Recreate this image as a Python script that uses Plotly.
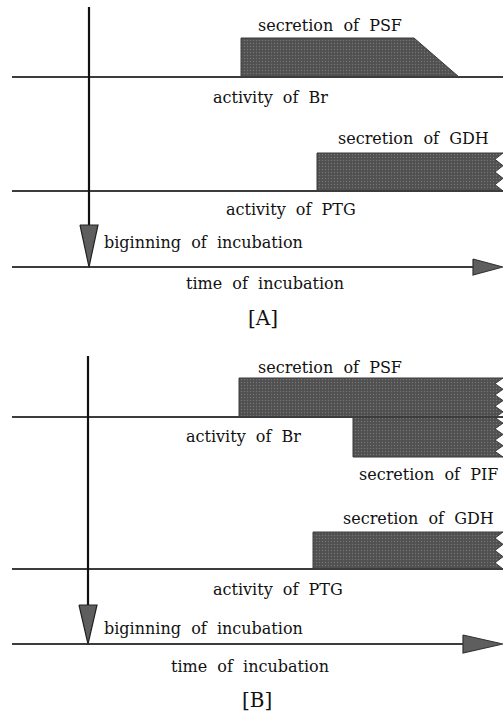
import numpy as np
import plotly.graph_objects as go

W, H = 503, 714

# ---- diagram data (two panels: A and B), in time/level units of the page ----
panel_labels = ["[A]", "[B]"]
incubation_start = [89, 88]          # time at which incubation begins
vline_top = [7, 356]
br_level = [77, 417]                 # baseline of "activity of Br"
ptg_level = [191, 569]               # baseline of "activity of PTG"
time_level = [267, 644]              # time axis
psf_top = [38, 378]
psf_start = [241, 239]
psf_plateau_end = [414, None]
psf_end = [459, 503]
pif_start = [None, 353]
pif_bottom = [None, 457]
gdh_top = [153, 532]
gdh_start = [317, 313]
time_arrow_start = [473, 463]
time_arrow_half = [8, 9]
down_arrow_top = [225, 605]

NB = "\u00a0"
def sp(s):
    return s.replace(" ", NB * 2)

texts_A = [("secretion of PSF", 330, 25, "center"),
           ("activity of Br", 270, 97, "center"),
           ("secretion of GDH", 413, 138, "center"),
           ("activity of PTG", 291, 209, "center"),
           ("biginning of incubation", 102, 242, "left"),
           ("time of incubation", 265, 283, "center")]
texts_B = [("secretion of PSF", 330, 367, "center"),
           ("activity of Br", 243, 436, "center"),
           ("secretion of PIF", 428, 474, "center"),
           ("secretion of GDH", 418, 518, "center"),
           ("activity of PTG", 278, 589, "center"),
           ("biginning of incubation", 102, 628, "left"),
           ("time of incubation", 250, 666, "center")]
label_pos = [(263, 318), (257, 700)]

FILL = "#575757"
LINE = "#2a2a2a"
pattern = dict(shape=".", bgcolor="#505050", fgcolor="#9a9a9a", size=3, solidity=0.18)

fig = go.Figure()

def zigzag(x_right, y_top, y_bot, depth=8, step=11):
    n = max(2, int(round((y_bot - y_top) / step)))
    ys = np.linspace(y_top, y_bot, 2 * n + 1)
    xs = [x_right if k % 2 == 0 else x_right - depth for k in range(len(ys))]
    return list(xs), list(ys)

def poly(xs, ys):
    fig.add_trace(go.Scatter(x=xs, y=ys, mode="lines", fill="toself",
                             fillcolor=FILL, fillpattern=pattern,
                             line=dict(color="#3a3a3a", width=1),
                             hoverinfo="skip", showlegend=False))

def line(xs, ys, color=LINE, width=2):
    fig.add_trace(go.Scatter(x=xs, y=ys, mode="lines",
                             line=dict(color=color, width=width),
                             hoverinfo="skip", showlegend=False))

for p in range(2):
    # secretion of PSF (and PIF)
    if psf_plateau_end[p] is not None:
        poly([psf_start[p], psf_start[p], psf_plateau_end[p], psf_end[p], psf_start[p]],
             [br_level[p], psf_top[p], psf_top[p], br_level[p], br_level[p]])
    else:
        zx, zy = zigzag(W, psf_top[p], pif_bottom[p])
        xs = [psf_start[p], psf_start[p]] + zx + [pif_start[p], pif_start[p], psf_start[p]]
        ys = [br_level[p], psf_top[p]] + zy + [pif_bottom[p], br_level[p], br_level[p]]
        poly(xs, ys)
    # secretion of GDH
    zx, zy = zigzag(W, gdh_top[p], ptg_level[p])
    poly([gdh_start[p], gdh_start[p]] + zx + [gdh_start[p]],
         [ptg_level[p], gdh_top[p]] + zy + [ptg_level[p]])

    # baselines
    line([12, W], [br_level[p], br_level[p]], color="#3c3c3c", width=2)
    line([12, W], [ptg_level[p], ptg_level[p]], color="#3c3c3c", width=2)
    line([12, time_arrow_start[p] + 2], [time_level[p], time_level[p]], color="#3c3c3c", width=2)

    # time axis arrowhead
    ta, th = time_arrow_start[p], time_arrow_half[p]
    fig.add_trace(go.Scatter(x=[ta, ta, W, ta], y=[time_level[p] - th, time_level[p] + th, time_level[p], time_level[p] - th],
                             mode="lines", fill="toself", fillcolor="#5e5e5e",
                             line=dict(color="#333333", width=1.2), hoverinfo="skip", showlegend=False))

    # beginning-of-incubation arrow
    x0 = incubation_start[p]
    line([x0, x0], [vline_top[p], down_arrow_top[p] + 2], color="#111111", width=2.2)
    fig.add_trace(go.Scatter(x=[x0 - 9, x0 + 9, x0, x0 - 9],
                             y=[down_arrow_top[p], down_arrow_top[p], time_level[p], down_arrow_top[p]],
                             mode="lines", fill="toself", fillcolor="#5e5e5e",
                             line=dict(color="#222222", width=1.2), hoverinfo="skip", showlegend=False))

FONT = dict(family="DejaVu Serif", size=16, color="#111111")
anns = []
for group in (texts_A, texts_B):
    for t, x, y, al in group:
        anns.append(dict(x=x, y=y, xref="x", yref="y", text=sp(t), showarrow=False,
                         xanchor=al, yanchor="middle", font=FONT))
for lab, (x, y) in zip(panel_labels, label_pos):
    anns.append(dict(x=x, y=y, xref="x", yref="y", text=lab, showarrow=False,
                     xanchor="center", yanchor="middle",
                     font=dict(family="DejaVu Serif", size=20, color="#111111")))

fig.update_layout(
    width=W, height=H, margin=dict(l=0, r=0, t=0, b=0),
    paper_bgcolor="white", plot_bgcolor="white",
    xaxis=dict(range=[0, W], visible=False, fixedrange=True),
    yaxis=dict(range=[H, 0], visible=False, fixedrange=True),
    annotations=anns, showlegend=False,
)
fig.write_html("out.html", config={"displayModeBar": False},
               post_script="document.body.style.margin='0';document.body.style.overflow='hidden';")
